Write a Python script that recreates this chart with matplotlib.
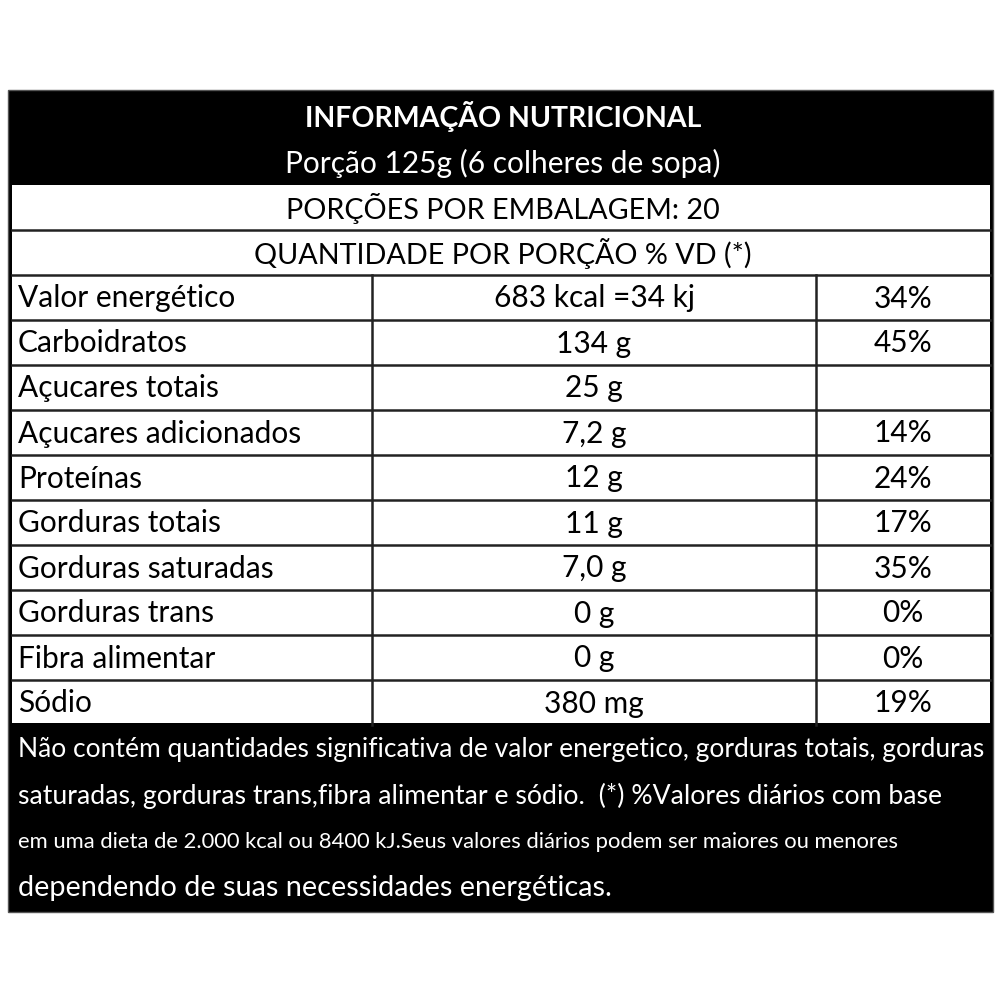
import matplotlib
matplotlib.use("Agg")
import matplotlib.pyplot as plt
from matplotlib.patches import Rectangle

plt.rcParams['font.family'] = ['Lato', 'DejaVu Sans']

# dados da tabela
titulo = "INFORMAÇÃO NUTRICIONAL"
porcao = "Porção 125g (6 colheres de sopa)"
porcoes_emb = "PORÇÕES POR EMBALAGEM: 20"
cabecalho = "QUANTIDADE POR PORÇÃO % VD (*)"

nutrientes = ["Valor energético", "Carboidratos", "Açucares totais", "Açucares adicionados",
              "Proteínas", "Gorduras totais", "Gorduras saturadas", "Gorduras trans",
              "Fibra alimentar", "Sódio"]
quantidades = ["683 kcal =34 kj", "134 g", "25 g", "7,2 g", "12 g", "11 g", "7,0 g",
               "0 g", "0 g", "380 mg"]
vd = ["34%", "45%", "", "14%", "24%", "17%", "35%", "0%", "0%", "19%"]

rodape = ["Não contém quantidades significativa de valor energetico, gorduras totais, gorduras",
          "saturadas, gorduras trans,fibra alimentar e sódio.  (*) %Valores diários com base",
          "em uma dieta de 2.000 kcal ou 8400 kJ.Seus valores diários podem ser maiores ou menores",
          "dependendo de suas necessidades energéticas."]
rodape_tam = [19, 19.2, 15.8, 20.8]

fig = plt.figure(figsize=(10, 10), dpi=100)
ax = fig.add_axes([0, 0, 1, 1])
ax.set_xlim(0, 1000)
ax.set_ylim(1000, 0)
ax.axis("off")

# moldura preta
ax.add_patch(Rectangle((8, 90), 985, 822, facecolor="black", edgecolor="#555555", lw=1))

# parte branca da tabela
x0, x1 = 12, 990
c1, c2 = 372, 816
y_top = 185
row_h = 45
n_rows = 2 + len(nutrientes)
ax.add_patch(Rectangle((x0, y_top), x1 - x0, row_h * n_rows - 2, facecolor="white", edgecolor="none"))
for i in range(1, n_rows):
    ax.plot([x0, x1], [y_top + i * row_h, y_top + i * row_h], color="#222222", lw=1.8)
ax.plot([c1, c1], [y_top + 2 * row_h, y_top + n_rows * row_h], color="#222222", lw=1.8)
ax.plot([c2, c2], [y_top + 2 * row_h, y_top + n_rows * row_h], color="#222222", lw=1.8)

cx = 503
ax.text(cx, 117, titulo, color="white", fontsize=20.5, fontweight="bold", ha="center", va="center")
ax.text(cx, 163, porcao, color="white", fontsize=21.5, ha="center", va="center")
ax.text(cx, y_top + row_h * 0.5 + 1, porcoes_emb, color="black", fontsize=20.7, ha="center", va="center")
ax.text(cx, y_top + row_h * 1.5 + 1, cabecalho, color="black", fontsize=20.7, ha="center", va="center")

for i, (n, q, v) in enumerate(zip(nutrientes, quantidades, vd)):
    y = y_top + row_h * (2.5 + i) + 1
    ax.text(18, y, n, fontsize=21.5, ha="left", va="center")
    ax.text((c1 + c2) / 2, y, q, fontsize=21.5, ha="center", va="center")
    ax.text((c2 + x1) / 2, y, v, fontsize=21.5, ha="center", va="center")

for i, (linha, tam) in enumerate(zip(rodape, rodape_tam)):
    ax.text(18, 750 + i * 46, linha, color="white", fontsize=tam, ha="left", va="center")

fig.savefig("out.png", dpi=100, facecolor="white")
